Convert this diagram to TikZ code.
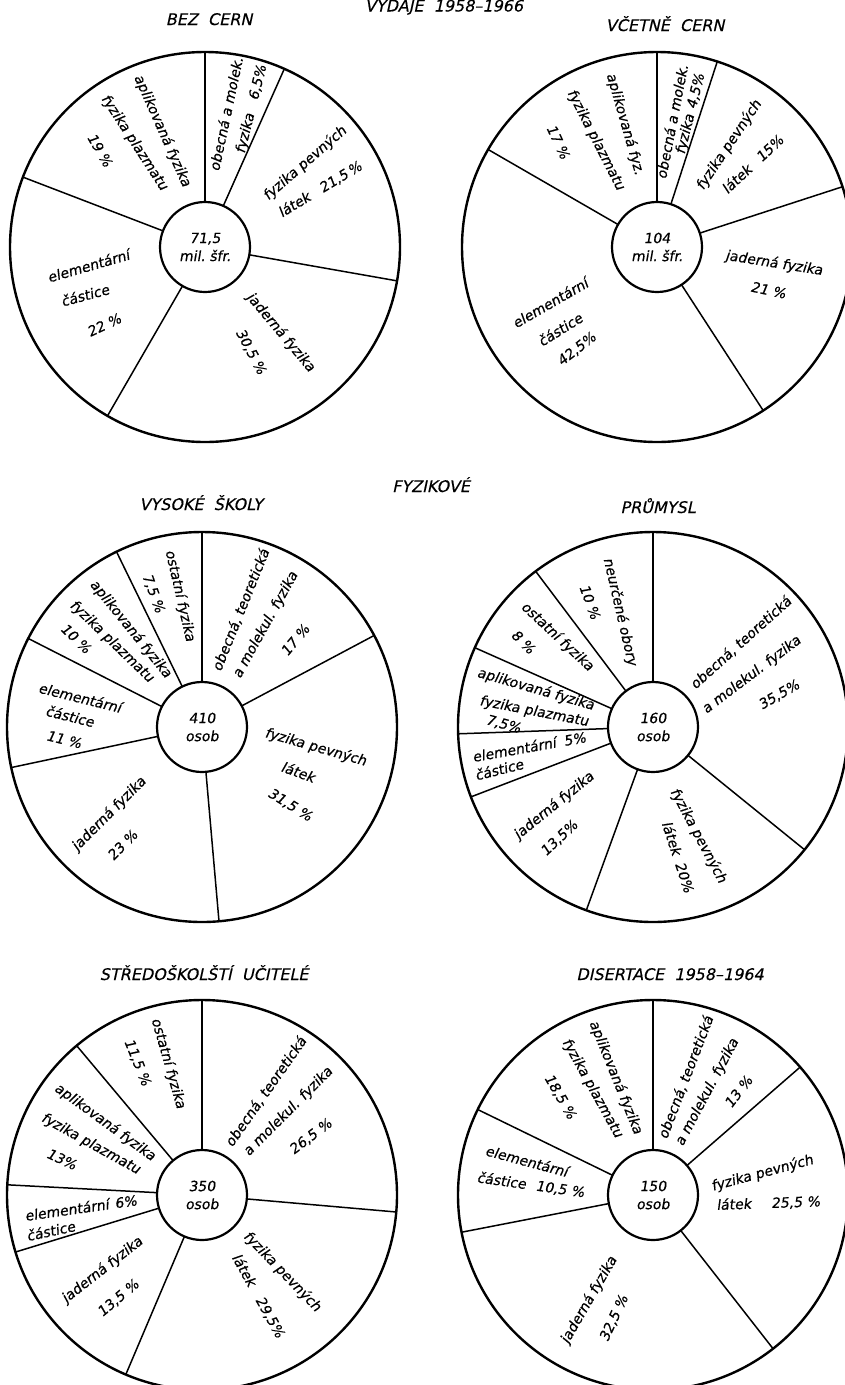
\documentclass[tikz,border=0pt]{standalone}
\usepackage{fontspec}
\setmainfont{DejaVu Sans}
\newfontfamily\labf{DejaVu Sans}[FakeSlant=0.17,FakeBold=0.5]
\newfontfamily\ttlf{DejaVu Sans}[FakeSlant=0.22,FakeBold=0.3]
\tikzset{
 rim/.style={circle,draw,line width=2.4pt,minimum size=390pt,inner sep=0pt,outer sep=0pt},
 hub/.style={circle,draw,line width=2.2pt,minimum size=90pt,inner sep=0pt,outer sep=0pt,align=center,font=\labf\fontsize{14}{18}\selectfont},
 spoke/.style={line width=1.5pt},
 mainspoke/.style={line width=2.5pt},
 lbl/.style={font=\labf\fontsize{14}{17}\selectfont,inner sep=0pt},
 ttl/.style={font=\ttlf\fontsize{16}{19}\selectfont,anchor=base,inner sep=0pt},
}
\begin{document}
\begin{tikzpicture}[x=1pt,y=-1pt]
\useasboundingbox (0,0) rectangle (845,1385);

% titles
\node[ttl] (t0) at (444,11.5) {VÝDAJE\ \ 1958–1966};
\node[ttl] (t1) at (209,25) {BEZ\ \ CERN};
\node[ttl] (t2) at (665,31) {VČETNĚ\ \ CERN};
\node[ttl] (t3) at (431,492) {FYZIKOVÉ};
\node[ttl] (t4) at (201,510) {VYSOKÉ\ \ ŠKOLY};
\node[ttl] (t5) at (658,513) {PRŮMYSL};
\node[ttl] (t6) at (204,980) {STŘEDOŠKOLŠTÍ\ \ UČITELÉ};
\node[ttl] (t7) at (670,980) {DISERTACE\ \ 1958–1964};

% ---------- pie 1 ----------
\node[rim] (r1) at (205,247) {};
\node[hub] (h1) at (205,247) {71,5\\mil.\ šfr.};
\draw[mainspoke] (h1.90) -- (r1.90);
\foreach \a in {66.8,350.5,240.3,159} \draw[spoke] (h1.\a) -- (r1.\a);
\node[lbl,rotate=78] (p1a) at (225.7,114) {obecná a molek.};
\node[lbl,rotate=76] (p1b) at (251.7,109.3) {fyzika\hspace{14pt}6,5\%};
\node[lbl,rotate=41] (p1c) at (305,163.3) {fyzika pevných};
\node[lbl,rotate=31] (p1d) at (320,189.3) {látek\hspace{13pt}21,5\,\%};
\node[lbl,rotate=-50] (p1e) at (280.7,332.3) {jaderná fyzika};
\node[lbl,rotate=-62] (p1f) at (250.7,351.7) {30,5 \%};
\node[lbl,rotate=16] (p1g) at (88.3,265.7) {elementární};
\node[lbl,rotate=15] (p1h) at (85,295) {částice};
\node[lbl,rotate=25] (p1i) at (104,325) {22 \%};
\node[lbl,rotate=-66] (p1j) at (162.3,130.7) {aplikovaná fyzika};
\node[lbl,rotate=-57] (p1k) at (134.3,142.7) {fyzika plazmatu};
\node[lbl,rotate=-60] (p1l) at (100,150) {19 \%};

% ---------- pie 2 ----------
\node[rim] (r2) at (657,247) {};
\node[hub] (h2) at (657,247) {104\\mil.\ šfr.};
\draw[mainspoke] (h2.90) -- (r2.90);
\foreach \a in {72.5,18.3,303.3,150.6} \draw[spoke] (h2.\a) -- (r2.\a);
\node[lbl,rotate=79] (p2a) at (671.7,121.7) {obecná a molek.};
\node[lbl,rotate=76] (p2b) at (690.7,114) {fyzika\hspace{6pt}4,5\%};
\node[lbl,rotate=56] (p2c) at (729,145) {fyzika pevných};
\node[lbl,rotate=43] (p2d) at (752.3,164) {látek\hspace{12pt}15\%};
\node[lbl,rotate=-9] (p2e) at (774,263.3) {jaderná fyzika};
\node[lbl,rotate=-12] (p2f) at (768.3,290) {21 \%};
\node[lbl,rotate=30] (p2g) at (550,302.7) {elementární};
\node[lbl,rotate=32] (p2h) at (560,329.3) {částice};
\node[lbl,rotate=38] (p2i) at (576.7,349.3) {42,5\%};
\node[lbl,rotate=-74] (p2j) at (625,124) {aplikovaná fyz.};
\node[lbl,rotate=-63] (p2k) at (595.7,140) {fyzika plazmatu};
\node[lbl,rotate=-65] (p2l) at (558.3,141.7) {17 \%};

% ---------- pie 3 ----------
\node[rim] (r3) at (202,727) {};
\node[hub] (h3) at (202,727) {410\\osob};
\draw[mainspoke] (h3.90) -- (r3.90);
\foreach \a in {28.6,275.7,192.1,153.2,116.6} \draw[spoke] (h3.\a) -- (r3.\a);
\node[lbl,rotate=68] (p3a) at (240.7,610) {obecná, teoretická};
\node[lbl,rotate=61] (p3b) at (265.7,625) {a molekul. fyzika};
\node[lbl,rotate=50] (p3c) at (295,640) {17 \%};
\node[lbl,rotate=-16] (p3d) at (315.7,747.3) {fyzika pevných};
\node[lbl,rotate=-20] (p3e) at (298.3,771.7) {látek};
\node[lbl,rotate=-32] (p3f) at (290,805) {31,5 \%};
\node[lbl,rotate=45] (p3g) at (109,814) {jaderná fyzika};
\node[lbl,rotate=45] (p3h) at (122.3,845) {23 \%};
\node[lbl,rotate=-14] (p3i) at (80,697.3) {elementární};
\node[lbl,rotate=-14] (p3j) at (70,716) {částice};
\node[lbl,rotate=-14] (p3k) at (64,739.3) {11 \%};
\node[lbl,rotate=-51] (p3l) at (130.7,629) {aplikovaná fyzika};
\node[lbl,rotate=-44] (p3m) at (111.7,641.7) {fyzika plazmatu};
\node[lbl,rotate=-44] (p3n) at (76,638.3) {10 \%};
\node[lbl,rotate=-77] (p3o) at (180,595.7) {ostatní fyzika};
\node[lbl,rotate=-70] (p3p) at (153.3,593.3) {7,5 \%};

% ---------- pie 4 ----------
\node[rim] (r4) at (653,727) {};
\node[hub] (h4) at (653,727) {160\\osob};
\draw[mainspoke] (h4.90) -- (r4.90);
\foreach \a in {321.6,250.5,201.4,182.8,156.2,127.7} \draw[spoke] (h4.\a) -- (r4.\a);
\node[lbl,rotate=-77] (p4a) at (620,611.7) {neurčené obory};
\node[lbl,rotate=-70] (p4b) at (590,601.7) {10 \%};
\node[lbl,rotate=-43] (p4c) at (557.3,636.7) {ostatní fyzika};
\node[lbl,rotate=-45] (p4d) at (523.3,641.7) {8 \%};
\node[lbl,rotate=-16] (p4e) at (535.7,689.3) {aplikovaná fyzika};
\node[lbl,rotate=-11] (p4f) at (534,711.7) {fyzika plazmatu};
\node[lbl,rotate=-15] (p4g) at (503.3,724.3) {7,5\%};
\node[lbl,rotate=10] (p4h) at (529,746.7) {elementární\hspace{8pt}5\%};
\node[lbl,rotate=14] (p4i) at (499,769.3) {částice};
\node[lbl,rotate=39] (p4j) at (554,805.7) {jaderná fyzika};
\node[lbl,rotate=43] (p4k) at (559.3,838.3) {13,5\%};
\node[lbl,rotate=-62] (p4l) at (698.3,835.7) {fyzika pevných};
\node[lbl,rotate=-72] (p4m) at (678.3,856.7) {látek\hspace{8pt}20\%};
\node[lbl,rotate=42] (p4n) at (740.7,642.7) {obecná, teoretická};
\node[lbl,rotate=37] (p4o) at (751.7,675) {a molekul. fyzika};
\node[lbl,rotate=30] (p4p) at (779,695) {35,5\%};

% ---------- pie 5 ----------
\node[rim] (r5) at (202,1195) {};
\node[hub] (h5) at (202,1195) {350\\osob};
\draw[mainspoke] (h5.90) -- (r5.90);
\foreach \a in {355,247.5,197.3,177,130.3} \draw[spoke] (h5.\a) -- (r5.\a);
\node[lbl,rotate=-74] (p5a) at (168.3,1063.3) {ostatní fyzika};
\node[lbl,rotate=-68] (p5b) at (137.3,1062.3) {11,5 \%};
\node[lbl,rotate=-36] (p5c) at (105,1122.3) {aplikovaná fyzika};
\node[lbl,rotate=-29] (p5d) at (90.7,1144) {fyzika plazmatu};
\node[lbl,rotate=-25] (p5e) at (61.7,1159) {13\%};
\node[lbl,rotate=8] (p5f) at (80.7,1207.7) {elementární\hspace{6pt}6\%};
\node[lbl,rotate=12] (p5g) at (50.7,1230.7) {částice};
\node[lbl,rotate=38] (p5h) at (102.3,1270) {jaderná fyzika};
\node[lbl,rotate=40] (p5i) at (118.3,1298.3) {13,5 \%};
\node[lbl,rotate=-46] (p5j) at (282.3,1271.7) {fyzika pevných};
\node[lbl,rotate=-61] (p5k) at (258.3,1295.7) {látek\hspace{14pt}29,5\%};
\node[lbl,rotate=55] (p5l) at (265.7,1091.7) {obecná, teoretická};
\node[lbl,rotate=45] (p5m) at (288.3,1111.7) {a molekul. fyzika};
\node[lbl,rotate=37] (p5n) at (310.7,1136.7) {26,5 \%};

% ---------- pie 6 ----------
\node[rim] (r6) at (653,1195) {};
\node[hub] (h6) at (653,1195) {150\\osob};
\draw[mainspoke] (h6.90) -- (r6.90);
\foreach \a in {41.8,308.7,191.5,154.5} \draw[spoke] (h6.\a) -- (r6.\a);
\node[lbl,rotate=69] (p6a) at (685.7,1077.3) {obecná, teoretická};
\node[lbl,rotate=62] (p6b) at (707.3,1092.3) {a molekul. fyzika};
\node[lbl,rotate=52] (p6c) at (738.3,1091.7) {13 \%};
\node[lbl,rotate=15] (p6d) at (762.3,1173.3) {fyzika pevných};
\node[lbl,rotate=2] (p6e) at (768.3,1203.3) {látek\hspace{20pt}25,5 \%};
\node[lbl,rotate=60] (p6f) at (589,1300) {jaderná fyzika};
\node[lbl,rotate=65] (p6g) at (614,1318.3) {32,5 \%};
\node[lbl,rotate=-15] (p6h) at (526.7,1160.7) {elementární};
\node[lbl,rotate=-8] (p6i) at (530.7,1185) {částice\hspace{10pt}10,5 \%};
\node[lbl,rotate=-68] (p6j) at (615.7,1077.3) {aplikovaná fyzika};
\node[lbl,rotate=-61] (p6k) at (592.3,1088.3) {fyzika plazmatu};
\node[lbl,rotate=-60] (p6l) at (560,1096.7) {18,5 \%};
\end{tikzpicture}
\end{document}
